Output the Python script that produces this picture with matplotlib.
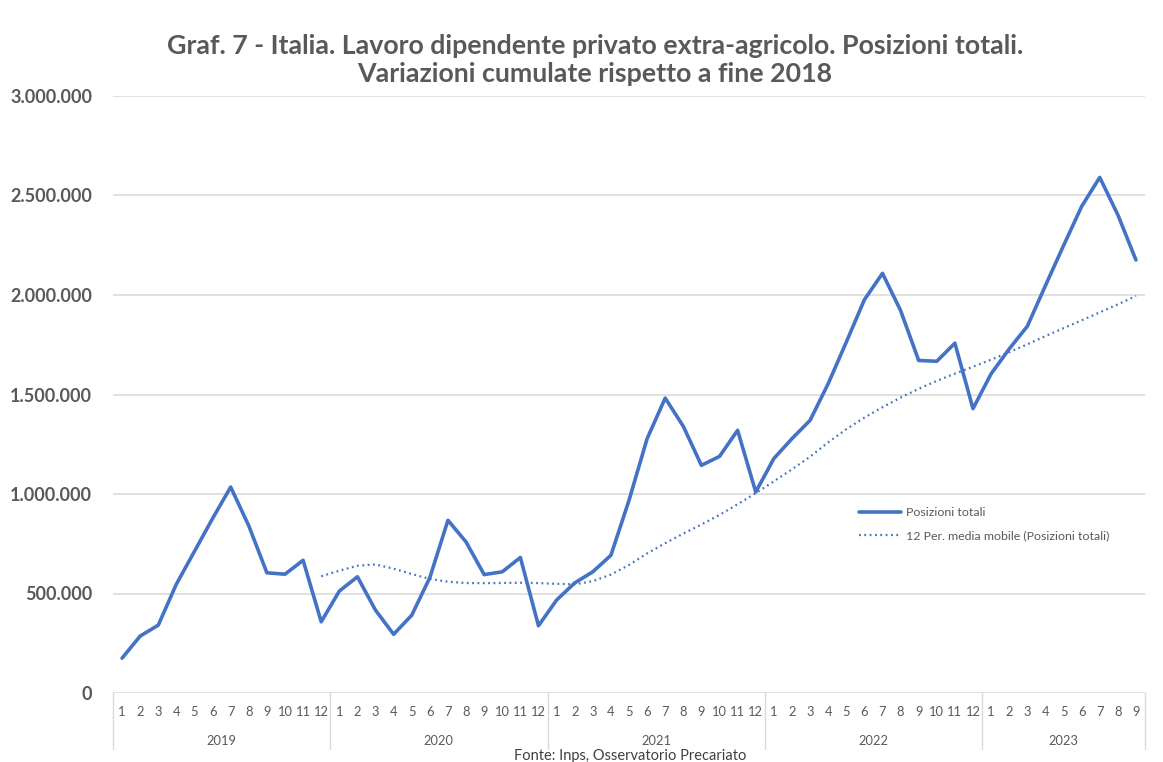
import matplotlib
matplotlib.use("Agg")
import matplotlib.pyplot as plt
import matplotlib.transforms as mtransforms
import numpy as np
import pandas as pd

years = ["2019", "2020", "2021", "2022", "2023"]
months_per_year = [12, 12, 12, 12, 9]

posizioni_2019 = [175000, 286000, 341000, 547000, 712000, 877000, 1035000, 840000, 604000, 597000, 667000, 358000]
posizioni_2020 = [512000, 584000, 416000, 295000, 391000, 580000, 868000, 759000, 595000, 609000, 681000, 338000]
posizioni_2021 = [467000, 553000, 609000, 692000, 968000, 1278000, 1482000, 1340000, 1144000, 1189000, 1320000, 1010000]
posizioni_2022 = [1178000, 1278000, 1370000, 1554000, 1763000, 1976000, 2109000, 1922000, 1671000, 1667000, 1758000, 1429000]
posizioni_2023 = [1604000, 1729000, 1843000, 2047000, 2248000, 2445000, 2591000, 2403000, 2176000]

values = posizioni_2019 + posizioni_2020 + posizioni_2021 + posizioni_2022 + posizioni_2023
month_labels = []
year_of = []
for y, n in zip(years, months_per_year):
    for m in range(1, n + 1):
        month_labels.append(str(m))
        year_of.append(y)

title = "Graf. 7 - Italia. Lavoro dipendente privato extra-agricolo. Posizioni totali.\nVariazioni cumulate rispetto a fine 2018"
source = "Fonte: Inps, Osservatorio Precariato"

plt.rcParams['font.family'] = ['Lato', 'DejaVu Sans']

W, H = 1163, 762
fig = plt.figure(figsize=(W / 100, H / 100), dpi=100)
left, right, top, bottom = 113, 1145, 96, 693
ax = fig.add_axes([left / W, 1 - bottom / H, (right - left) / W, (bottom - top) / H])

x = np.arange(len(values))
s = pd.Series(values, dtype=float)
ma = s.rolling(12).mean()

blue = "#4472C4"
grey = "#595959"
ax.plot(x, values, color=blue, lw=2.6, solid_joinstyle="round", solid_capstyle="round",
        label="Posizioni totali", zorder=3)
ax.plot(x[11:], ma.values[11:], color=blue, lw=1.6, linestyle=(0, (0.8, 1.6)),
        label="12 Per. media mobile (Posizioni totali)", zorder=2)

ax.set_xlim(-0.5, len(values) - 0.5)
ax.set_ylim(0, 3000000)
yt = np.arange(0, 3000001, 500000)
ax.set_yticks(yt)
ax.set_yticklabels([("{:,}".format(int(v)).replace(",", ".")) for v in yt],
                   fontsize=13, fontweight="bold", color=grey)
ax.tick_params(axis="y", length=0, pad=15)
ax.set_xticks([])
for sp in ax.spines.values():
    sp.set_visible(False)
ax.grid(axis="y", color="#D9D9D9", lw=1.1)
ax.set_axisbelow(True)

trans = mtransforms.blended_transform_factory(ax.transData, ax.transAxes)
for i, lab in enumerate(month_labels):
    ax.text(i, -0.032, lab, transform=trans, ha="center", va="center", fontsize=9.3, color=grey)
# year separators and labels
bounds = [-0.5]
acc = -0.5
for n in months_per_year:
    acc += n
    bounds.append(acc)
for b in bounds:
    ax.plot([b, b], [0, -0.093], transform=trans, color="#D9D9D9", lw=1.0, clip_on=False)
for k, y in enumerate(years):
    c = (bounds[k] + bounds[k + 1]) / 2
    ax.text(c, -0.080, y, transform=trans, ha="center", va="center", fontsize=9.3, color=grey)

fig.text(595 / W, 1 - 60 / H, title, ha="center", va="center", fontsize=19.3,
         fontweight="bold", color=grey, linespacing=1.25)
fig.text(630 / W, 1 - 756 / H, source, ha="center", va="center", fontsize=10.5, color="#404040")

leg = ax.legend(loc="upper left", bbox_to_anchor=(848 / W, 1 - 496 / H), bbox_transform=fig.transFigure,
                frameon=False, fontsize=8.9, handlelength=3.4, handletextpad=0.4, labelspacing=1.0,
                labelcolor=grey)

fig.savefig("out.png", dpi=100, facecolor="white")
